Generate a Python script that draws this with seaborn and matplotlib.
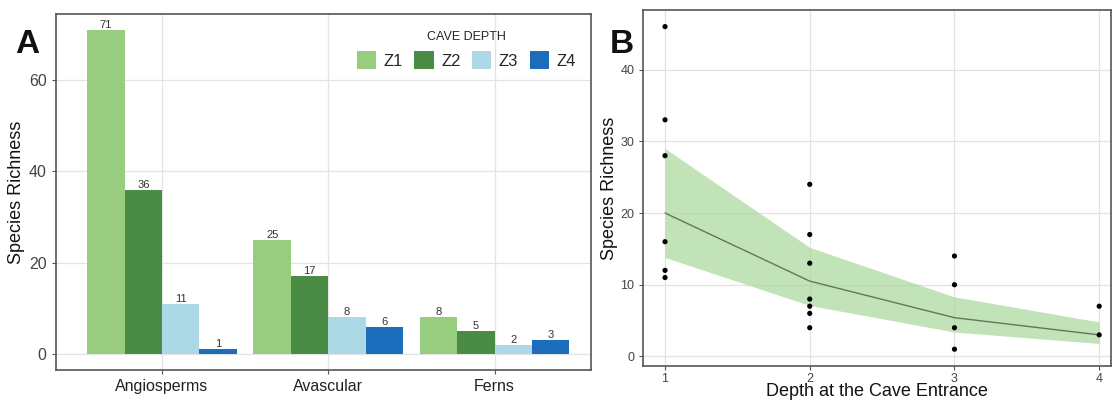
import numpy as np
import pandas as pd
import matplotlib
matplotlib.use('Agg')
import matplotlib.pyplot as plt
import seaborn as sns

# ── Data ──────────────────────────────────────────────────────────────────────

groups = ['Angiosperms', 'Avascular', 'Ferns']
zones = ['Z1', 'Z2', 'Z3', 'Z4']
z1 = [71, 25, 8]
z2 = [36, 17, 5]
z3 = [11, 8, 2]
z4 = [1, 6, 3]

depth_pts = [1, 1, 1, 1, 1, 1,
             2, 2, 2, 2, 2, 2, 2,
             3, 3, 3, 3,
             4, 4]
rich_pts = [46, 33, 28, 16, 12, 11,
            24, 17, 13, 8, 7, 6, 4,
            14, 10, 4, 1,
            7, 3]

fit_depth = [1, 2, 3, 4]
fit_mean = [20.0, 10.5, 5.4, 3.0]
fit_lo = [13.8, 7.1, 3.4, 1.8]
fit_hi = [29.0, 15.2, 8.3, 4.8]

zone_colors = ['#98CC7E', '#4A8B45', '#ADD8E6', '#1C6EBD']
band_color = '#A8D69A'

# ── Style ─────────────────────────────────────────────────────────────────────

sns.set_theme(style='whitegrid')
plt.rcParams['font.family'] = ['Liberation Sans', 'DejaVu Sans']

fig = plt.figure(figsize=(11.13, 4.05), dpi=100)
axA = fig.add_axes([0.050, 0.086, 0.481, 0.880])
axB = fig.add_axes([0.578, 0.097, 0.420, 0.878])


def style_ax(ax, tick_size):
    ax.set_facecolor('white')
    ax.grid(True, color='#E3E3E3', lw=0.9)
    for s in ax.spines.values():
        s.set_visible(True)
        s.set_color('#555555')
        s.set_linewidth(1.2)
    ax.tick_params(axis='both', colors='#555555', labelcolor='#444444',
                   labelsize=tick_size, length=3, width=0.8,
                   left=True, bottom=True)


# ── Panel A: bars ─────────────────────────────────────────────────────────────

df = pd.DataFrame({
    'group': np.repeat(groups, len(zones)),
    'zone': zones * len(groups),
    'richness': np.ravel(np.column_stack([z1, z2, z3, z4])),
})

sns.barplot(data=df, x='group', y='richness', hue='zone',
            palette=zone_colors, width=0.9, saturation=1,
            edgecolor='none', ax=axA, legend=True)
for cont in axA.containers:
    axA.bar_label(cont, fontsize=8, color='#333333', padding=0)

style_ax(axA, 11.5)
axA.set_ylim(-3.55, 74.55)
axA.set_xlim(-0.64, 2.58)
axA.set_yticks([0, 20, 40, 60])
axA.set_xlabel('')
axA.set_ylabel('Species Richness', fontsize=13, color='#111111', labelpad=3)
axA.tick_params(axis='x', labelsize=11.5, labelcolor='#222222')

leg = axA.legend(title='CAVE DEPTH', ncol=4, loc='upper right',
                 bbox_to_anchor=(1.0, 0.995), frameon=False, fontsize=12,
                 title_fontsize=9, handlelength=1.15, handleheight=1.3,
                 handletextpad=0.45, columnspacing=0.7)

fig.text(0.014, 0.87, 'A', fontsize=24, fontweight='bold', color='#111111')

# ── Panel B: points + fitted curve ────────────────────────────────────────────

axB.fill_between(fit_depth, fit_lo, fit_hi, color=band_color, alpha=0.7,
                 lw=0, zorder=1)
sns.lineplot(x=fit_depth, y=fit_mean, color='#5C7A5A', lw=1.0, ax=axB,
             zorder=2)
sns.scatterplot(x=depth_pts, y=rich_pts, color='black', s=14,
                edgecolor='none', ax=axB, zorder=3)

style_ax(axB, 9)
axB.tick_params(axis='x', pad=2)
axB.set_xlim(0.85, 4.08)
axB.set_ylim(-1.3, 48.3)
axB.set_xticks([1, 2, 3, 4])
axB.set_yticks([0, 10, 20, 30, 40])
axB.set_xlabel('Depth at the Cave Entrance', fontsize=13, color='#111111',
               labelpad=-1)
axB.set_ylabel('Species Richness', fontsize=13, color='#111111', labelpad=2)

fig.text(0.548, 0.87, 'B', fontsize=24, fontweight='bold', color='#111111')

fig.savefig('out.png', dpi=100, facecolor='white')
